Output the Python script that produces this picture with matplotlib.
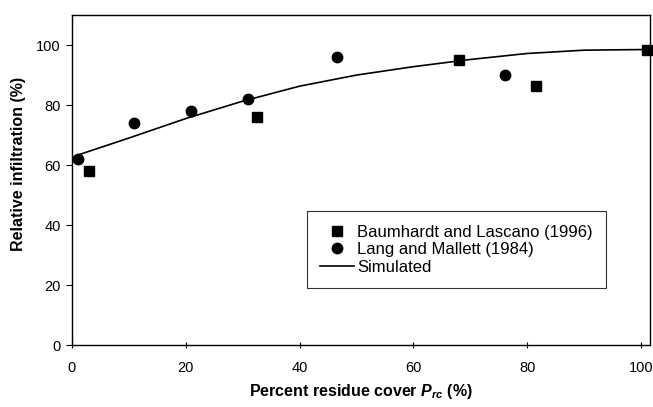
import numpy as np
import matplotlib
matplotlib.use('Agg')
import matplotlib.pyplot as plt

plt.rcParams['font.family'] = ['Liberation Sans', 'DejaVu Sans']
plt.rcParams['mathtext.fontset'] = 'custom'
plt.rcParams['mathtext.rm'] = 'Liberation Sans:bold'
plt.rcParams['mathtext.it'] = 'Liberation Sans:bold:italic'

# measured data
baum_x = [3, 32.5, 68, 81.5, 101]
baum_y = [58, 76, 95, 86.5, 98.5]
lang_x = [1, 11, 21, 31, 46.5, 76]
lang_y = [62, 74, 78, 82, 96, 90]

# simulated curve
sim_x = [0.5, 10, 20, 30, 40, 50, 60, 70, 80, 90, 100]
sim_y = [63, 69, 75.5, 81.3, 86.3, 90, 92.8, 95.2, 97.2, 98.3, 98.5]

fig = plt.figure(figsize=(6.53, 4.07), dpi=100)
ax = fig.add_axes([0.110, 0.152, 0.885, 0.811])

ax.plot(sim_x, sim_y, 'k-', linewidth=1.2, label='Simulated', zorder=2)
ax.plot(baum_x, baum_y, 's', color='black', markersize=7.5,
        linestyle='none', label='Baumhardt and Lascano (1996)', zorder=3,
        clip_on=False)
ax.plot(lang_x, lang_y, 'o', color='black', markersize=7.5,
        linestyle='none', label='Lang and Mallett (1984)', zorder=3,
        clip_on=False)

ax.set_xlim(0, 101.5)
ax.set_ylim(0, 110)
ax.set_xticks([0, 20, 40, 60, 80, 100])
ax.set_yticks([0, 20, 40, 60, 80, 100])
ax.tick_params(axis='x', direction='inout', length=5, width=0.8,
               labelsize=10.5, pad=9)
ax.tick_params(axis='y', direction='out', length=4, width=0.8,
               labelsize=10.5, pad=4)
for s in ax.spines.values():
    s.set_linewidth(1.0)

ax.set_xlabel(r'Percent residue cover $P_{rc}$ (%)', fontsize=11.5,
              fontweight='bold', labelpad=5)
ax.set_ylabel('Relative infiltration (%)', fontsize=11.5,
              fontweight='bold')
ax.yaxis.set_label_coords(-0.08, 0.55)

handles, labels = ax.get_legend_handles_labels()
order = [1, 2, 0]
leg = ax.legend([handles[i] for i in order], [labels[i] for i in order],
                loc='lower left', bbox_to_anchor=(0.407, 0.173),
                borderaxespad=0, fontsize=12, frameon=True, fancybox=False,
                edgecolor='black', handlelength=2.0, handletextpad=0.2,
                labelspacing=0.15, borderpad=0.8)
leg.get_frame().set_linewidth(0.8)

fig.savefig('out.png', dpi=100)
